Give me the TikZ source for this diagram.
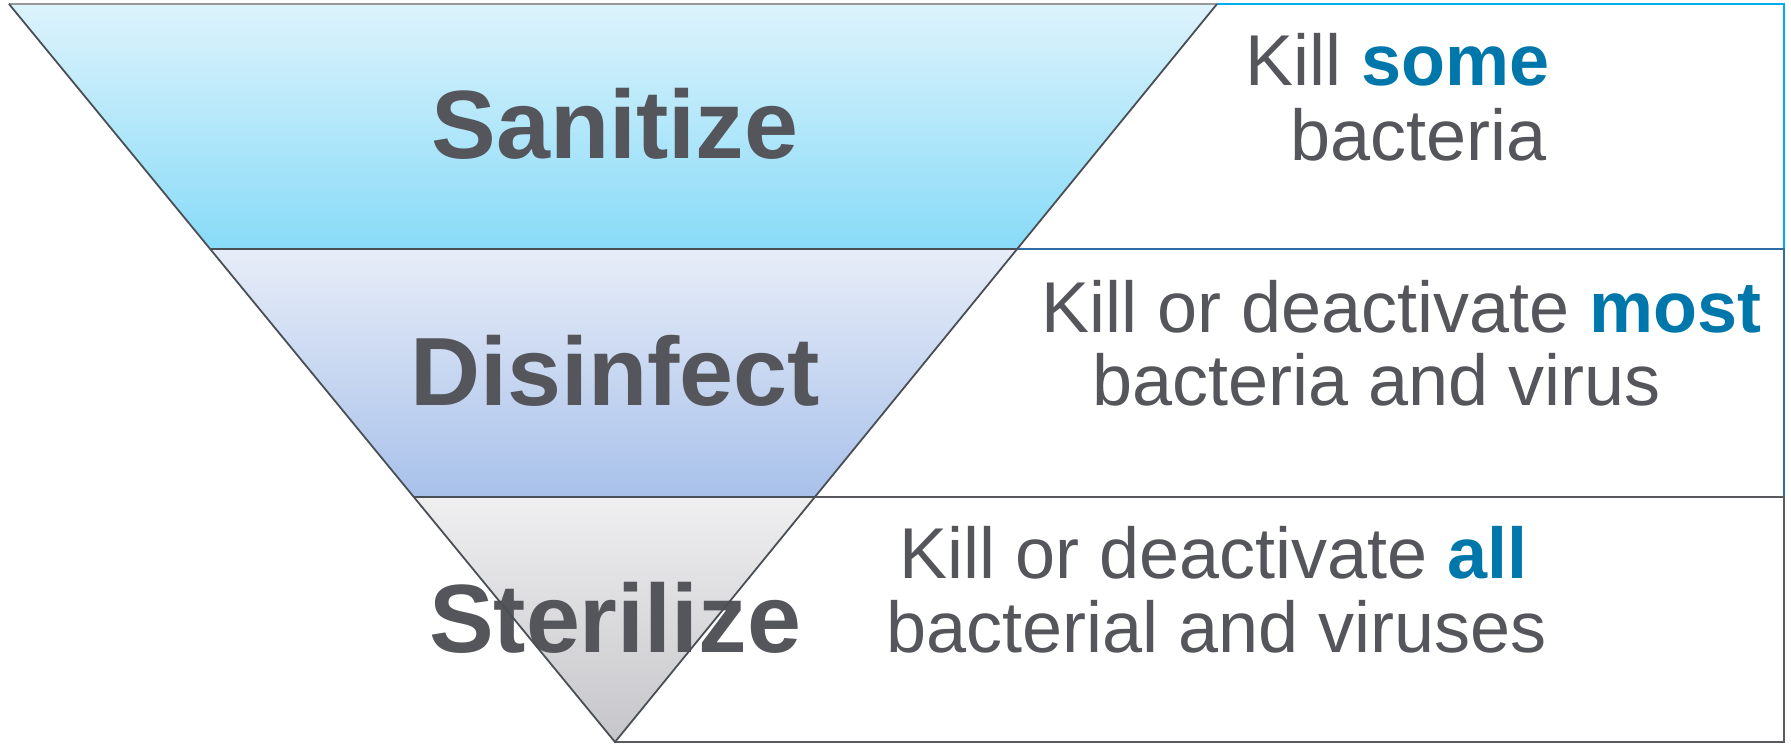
\documentclass[tikz,border=0pt]{standalone}
\usepackage{fontspec}
\setmainfont{Liberation Sans}
\definecolor{txt}{HTML}{55565B}
\definecolor{hl}{HTML}{0077AA}
\definecolor{bOne}{HTML}{00AEEF}
\definecolor{bTwo}{HTML}{2E6DA4}
\definecolor{bThree}{HTML}{5A5A5E}
\definecolor{aTop}{HTML}{DDF3FC}
\definecolor{aBot}{HTML}{88DBF8}
\definecolor{mTop}{HTML}{E7EDF8}
\definecolor{mBot}{HTML}{A8C1EA}
\definecolor{sTop}{HTML}{EFEFF0}
\definecolor{sBot}{HTML}{C6C6CA}
\definecolor{edge}{HTML}{4A4F55}
\tikzset{
  bigtxt/.style={font=\fontsize{97}{110}\selectfont\bfseries, text=txt, inner sep=0pt, anchor=base},
  desc/.style={font=\fontsize{72}{80}\selectfont, text=txt, inner sep=0pt, anchor=base west},
  boxline/.style={line width=2pt},
  triline/.style={draw=edge, line width=1.8pt, line join=miter}
}
\newcommand{\hlw}[1]{{\bfseries\color{hl}#1}}
\begin{document}
\begin{tikzpicture}[x=1pt,y=-1pt]
\useasboundingbox (0,0) rectangle (1791,745);
\fill[white] (0,0) rectangle (1791,745);
% corner coordinates
\coordinate (tl) at (9,4);
\coordinate (tr) at (1217,4);
\coordinate (ap) at (615,742);
\coordinate (l1) at (211,249);
\coordinate (r1) at (1017,249);
\coordinate (l2) at (414,497);
\coordinate (r2) at (815,497);
\coordinate (e1) at (1784,4);
\coordinate (e2) at (1784,249);
\coordinate (e3) at (1784,497);
\coordinate (e4) at (1784,742);
% right boxes
\draw[boxline, draw=bOne] (tr) -- (e1) -- (e2) -- (r1);
\draw[boxline, draw=bTwo] (r1) -- (e2) -- (e3) -- (r2);
\draw[boxline, draw=bThree] (r2) -- (e3) -- (e4) -- (ap);
% bands
\shade[top color=aTop, bottom color=aBot] (tl) -- (tr) -- (r1) -- (l1) -- cycle;
\shade[top color=mTop, bottom color=mBot] (l1) -- (r1) -- (r2) -- (l2) -- cycle;
\shade[top color=sTop, bottom color=sBot] (l2) -- (r2) -- (ap) -- cycle;
% big labels
\node[bigtxt] (san) at (615,158) {Sanitize};
\node[bigtxt] (dis) at (615,405) {Disinfect};
\node[bigtxt] (ste) at (615,652) {Sterilize};
% outlines (drawn over the labels)
\draw[draw=gray!80, line width=1.8pt] (tl) -- (tr);
\draw[triline] (tl) -- (ap) -- (tr);
\draw[draw=edge, line width=1.8pt] (l1) -- (r1);
\draw[draw=edge, line width=1.8pt] (l2) -- (r2);
% descriptions
\node[desc] (d1a) at (1245,85) {Kill \hlw{some}};
\node[desc] (d1b) at (1290,160) {bacteria};
\node[desc] (d2a) at (1041,332) {Kill or deactivate \hlw{most}};
\node[desc] (d2b) at (1092,405) {bacteria and virus};
\node[desc] (d3a) at (899,578) {Kill or deactivate \hlw{all}};
\node[desc] (d3b) at (886,652) {bacterial and viruses};
\end{tikzpicture}
\end{document}
